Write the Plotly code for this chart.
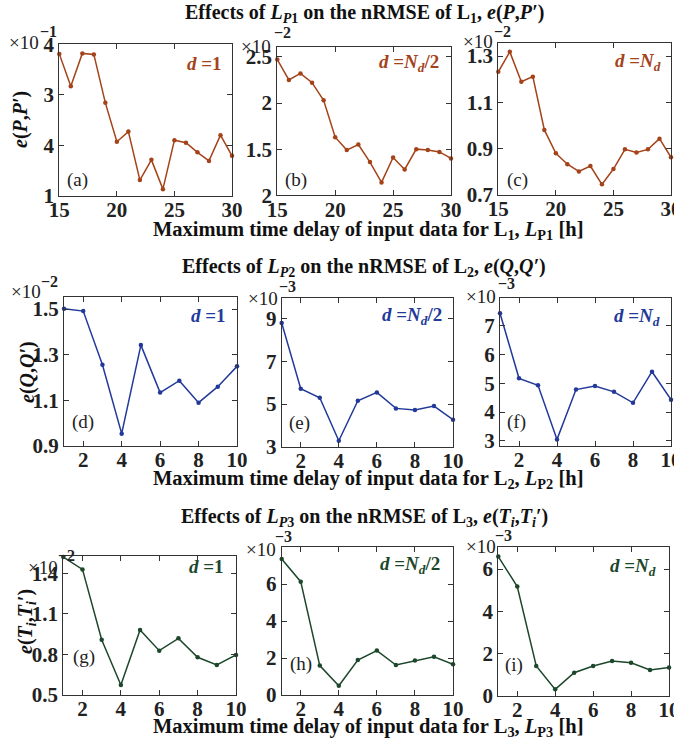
import plotly.graph_objects as go

W, H = 674, 745

# ---------------- data ----------------
x_p1 = list(range(15, 31))
x_p2 = list(range(1, 11))
x_p3 = list(range(1, 11))

# L1: e(P,P')
eP_d1 = [3.81, 3.17, 3.82, 3.80, 2.84, 2.07, 2.27, 1.31, 1.71, 1.13, 2.10, 2.05, 1.86, 1.69, 2.20, 1.79]
eP_half = [2.47, 2.25, 2.32, 2.22, 2.03, 1.63, 1.49, 1.55, 1.36, 1.14, 1.41, 1.28, 1.50, 1.49, 1.47, 1.40]
eP_nd = [1.232, 1.318, 1.189, 1.211, 0.981, 0.880, 0.833, 0.802, 0.825, 0.746, 0.812, 0.897, 0.884, 0.897, 0.943, 0.863]

# L2: e(Q,Q')
eQ_d1 = [1.501, 1.491, 1.256, 0.954, 1.342, 1.134, 1.186, 1.090, 1.160, 1.249]
eQ_half = [8.81, 5.72, 5.30, 3.28, 5.16, 5.55, 4.80, 4.73, 4.91, 4.27]
eQ_nd = [7.43, 5.17, 4.93, 3.05, 4.78, 4.90, 4.70, 4.32, 5.40, 4.43]

# L3: e(Ti,Ti')
eT_d1 = [1.52, 1.429, 0.909, 0.574, 0.981, 0.828, 0.919, 0.779, 0.722, 0.796]
eT_half = [7.35, 6.13, 1.59, 0.50, 1.89, 2.40, 1.62, 1.86, 2.07, 1.66]
eT_nd = [6.59, 5.17, 1.41, 0.30, 1.09, 1.41, 1.64, 1.56, 1.22, 1.34]

# tick values / labels (as printed in the original)
yt_a = [1, 2, 3, 4]; yl_a = ["1", "4", "3", "4"]
yt_b = [1, 1.5, 2, 2.5]; yl_b = ["2", "1.5", "2", "2.5"]
yt_c = [0.7, 0.9, 1.1, 1.3]; yl_c = ["0.7", "0.9", "1.1", "1.3"]
yt_d = [0.9, 1.1, 1.3, 1.5]; yl_d = ["0.9", "1.1", "1.3", "1.5"]
yt_e = [3, 5, 7, 9]; yl_e = ["3", "5", "7", "9"]
yt_f = [3, 4, 5, 6, 7]; yl_f = ["3", "4", "5", "6", "7"]
yt_g = [0.5, 0.8, 1.1, 1.4]; yl_g = ["0.5", "0.8", "1.1", "1.4"]
yt_h = [0, 2, 4, 6]; yl_h = ["0", "2", "4", "6"]
yt_i = [0, 2, 4, 6]; yl_i = ["0", "2", "4", "6"]
xt_p1 = [15, 20, 25, 30]
xt_lag = [2, 4, 6, 8, 10]

exps = ["−1", "−2", "−2", "−2", "−3", "−3", "−2", "−3", "−3"]
d_labels = ["<i>d</i> =1", "<i>d</i> =<i>N<sub>d</sub></i>/2", "<i>d</i> =<i>N<sub>d</sub></i>"]
panel_tags = ["(a)", "(b)", "(c)", "(d)", "(e)", "(f)", "(g)", "(h)", "(i)"]

# ---------------- style ----------------
FONT = "Liberation Serif, Times New Roman, serif"
brown = "#A4431A"
blue = "#22399A"
green = "#1C472B"

# geometry px: left, right, top, bottom
geo = [
    (59.3, 232, 44.3, 195.7), (277.3, 451, 46.7, 195.3), (498.3, 671, 43.3, 195),
    (64, 237, 296.7, 446), (281.7, 453, 297.7, 446.7), (500, 671, 297.7, 446),
    (63.3, 236, 556, 695), (281.7, 453, 546.7, 695), (498.3, 669, 546.7, 695.7),
]
yranges = [[1, 4], [1, 2.61], [0.7, 1.355], [0.9, 1.554], [3, 10], [2.82, 7.97],
           [0.5, 1.528], [0, 8.02], [0, 7.06]]
yticks = [(yt_a, yl_a), (yt_b, yl_b), (yt_c, yl_c), (yt_d, yl_d), (yt_e, yl_e),
          (yt_f, yl_f), (yt_g, yl_g), (yt_h, yl_h), (yt_i, yl_i)]
series = [(x_p1, eP_d1), (x_p1, eP_half), (x_p1, eP_nd),
          (x_p2, eQ_d1), (x_p2, eQ_half), (x_p2, eQ_nd),
          (x_p3, eT_d1), (x_p3, eT_half), (x_p3, eT_nd)]
colors = [brown] * 3 + [blue] * 3 + [green] * 3

# label positions px
tag_pos = [(77, 180), (296, 180), (517, 180), (83, 422), (299, 423), (516, 422),
           (84, 657), (301, 664), (514, 665)]
d_pos = [(224, 63), (441, 63), (663, 62), (228, 316), (444, 316), (662, 317),
         (226, 566), (442, 565), (658, 567)]
x10_pos = [(41, 43), (273, 46.7), (495, 41.7), (43, 291.7), (280, 298), (498, 296.7),
           (60, 567), (278, 549), (498, 546.7)]
exp_pos = [(48, 31), (282, 33), (502, 31.7), (50, 281), (287, 286), (506, 283),
           (66, 555), (283, 536.7), (504, 535)]


def px(x):
    return x / W


def py(y):
    return 1 - y / H


def ann(text, x, y, size, color="#222", xanchor="center", angle=0):
    return dict(text=text, x=px(x), y=py(y), xref="paper", yref="paper",
                xanchor=xanchor, yanchor="middle", textangle=angle, showarrow=False,
                font=dict(family=FONT, size=size, color=color))


fig = go.Figure()
layout = {}
annotations = []

for k in range(9):
    sfx = "" if k == 0 else str(k + 1)
    l, r, t, b = geo[k]
    xs, ys = series[k]
    fig.add_trace(go.Scatter(
        x=xs, y=ys, mode="lines+markers",
        line=dict(color=colors[k], width=1.5),
        marker=dict(color=colors[k], size=4.5),
        xaxis="x" + sfx, yaxis="y" + sfx, showlegend=False, cliponaxis=False))
    xr = [15, 30] if k < 3 else [1, 10]
    xt = xt_p1 if k < 3 else xt_lag
    layout["xaxis" + sfx] = dict(
        domain=[px(l), px(r)], anchor="y" + sfx, range=xr, automargin=False,
        tickvals=xt, ticktext=[str(v) for v in xt], ticklabeloverflow="allow",
        ticklabelstandoff=-5,
        ticks="inside", ticklen=5, tickcolor="#333", tickwidth=1,
        showline=True, linecolor="#333", linewidth=1, mirror="ticks",
        showgrid=False, zeroline=False,
        tickfont=dict(family=FONT, size=21, color="#222", weight="bold"))
    tv, tl = yticks[k]
    layout["yaxis" + sfx] = dict(
        domain=[py(b), py(t)], anchor="x" + sfx, range=yranges[k], automargin=False,
        tickvals=tv, ticktext=tl, ticklabeloverflow="allow",
        ticks="inside", ticklen=5, tickcolor="#333", tickwidth=1,
        showline=True, linecolor="#333", linewidth=1, mirror="ticks",
        showgrid=False, zeroline=False,
        tickfont=dict(family=FONT, size=21, color="#222", weight="bold"))

    annotations.append(ann(panel_tags[k], tag_pos[k][0], tag_pos[k][1], 19))
    annotations.append(ann("<b>" + d_labels[k % 3] + "</b>", d_pos[k][0], d_pos[k][1], 19,
                           color=colors[k], xanchor="right"))
    annotations.append(ann("×10", x10_pos[k][0], x10_pos[k][1], 19, xanchor="right"))
    annotations.append(ann("<b>" + exps[k] + "</b>", exp_pos[k][0], exp_pos[k][1], 16))

row_titles = [
    ("<b>Effects of <i>L</i><sub><i>P</i>1</sub> on the nRMSE of L<sub>1</sub>, "
     "<i>e</i>(<i>P</i>,<i>P′</i>)</b>", 14),
    ("<b>Effects of <i>L</i><sub><i>P</i>2</sub> on the nRMSE of L<sub>2</sub>, "
     "<i>e</i>(<i>Q</i>,<i>Q′</i>)</b>", 267),
    ("<b>Effects of <i>L</i><sub><i>P</i>3</sub> on the nRMSE of L<sub>3</sub>, "
     "<i>e</i>(<i>T<sub>i</sub></i>,<i>T<sub>i</sub>′</i>)</b>", 517),
]
for txt, y in row_titles:
    annotations.append(ann(txt, 364, y, 20, color="#111"))

x_titles = [
    ("<b>Maximum time delay of input data for L<sub>1</sub>, <i>L</i><sub>P1</sub> [h]</b>", 230),
    ("<b>Maximum time delay of input data for L<sub>2</sub>, <i>L</i><sub>P2</sub> [h]</b>", 479),
    ("<b>Maximum time delay of input data for L<sub>3</sub>, <i>L</i><sub>P3</sub> [h]</b>", 727),
]
for txt, y in x_titles:
    annotations.append(ann(txt, 368, y, 20.5, color="#111"))

y_titles = [
    ("<b><i>e</i>(<i>P</i>,<i>P′</i>)</b>", 21, 120),
    ("<b><i>e</i>(<i>Q</i>,<i>Q′</i>)</b>", 27, 372),
    ("<b><i>e</i>(<i>T<sub>i</sub></i>,<i>T<sub>i</sub>′</i>)</b>", 26, 622),
]
for txt, x, y in y_titles:
    annotations.append(ann(txt, x, y, 20, color="#111", angle=-90))

fig.update_layout(
    width=W, height=H, autosize=False,
    margin=dict(l=0, r=0, t=0, b=0),
    paper_bgcolor="white", plot_bgcolor="white",
    annotations=annotations, **layout)

fig.write_html("out.html", config={"displayModeBar": False},
               post_script="document.body.style.margin='0px';")
